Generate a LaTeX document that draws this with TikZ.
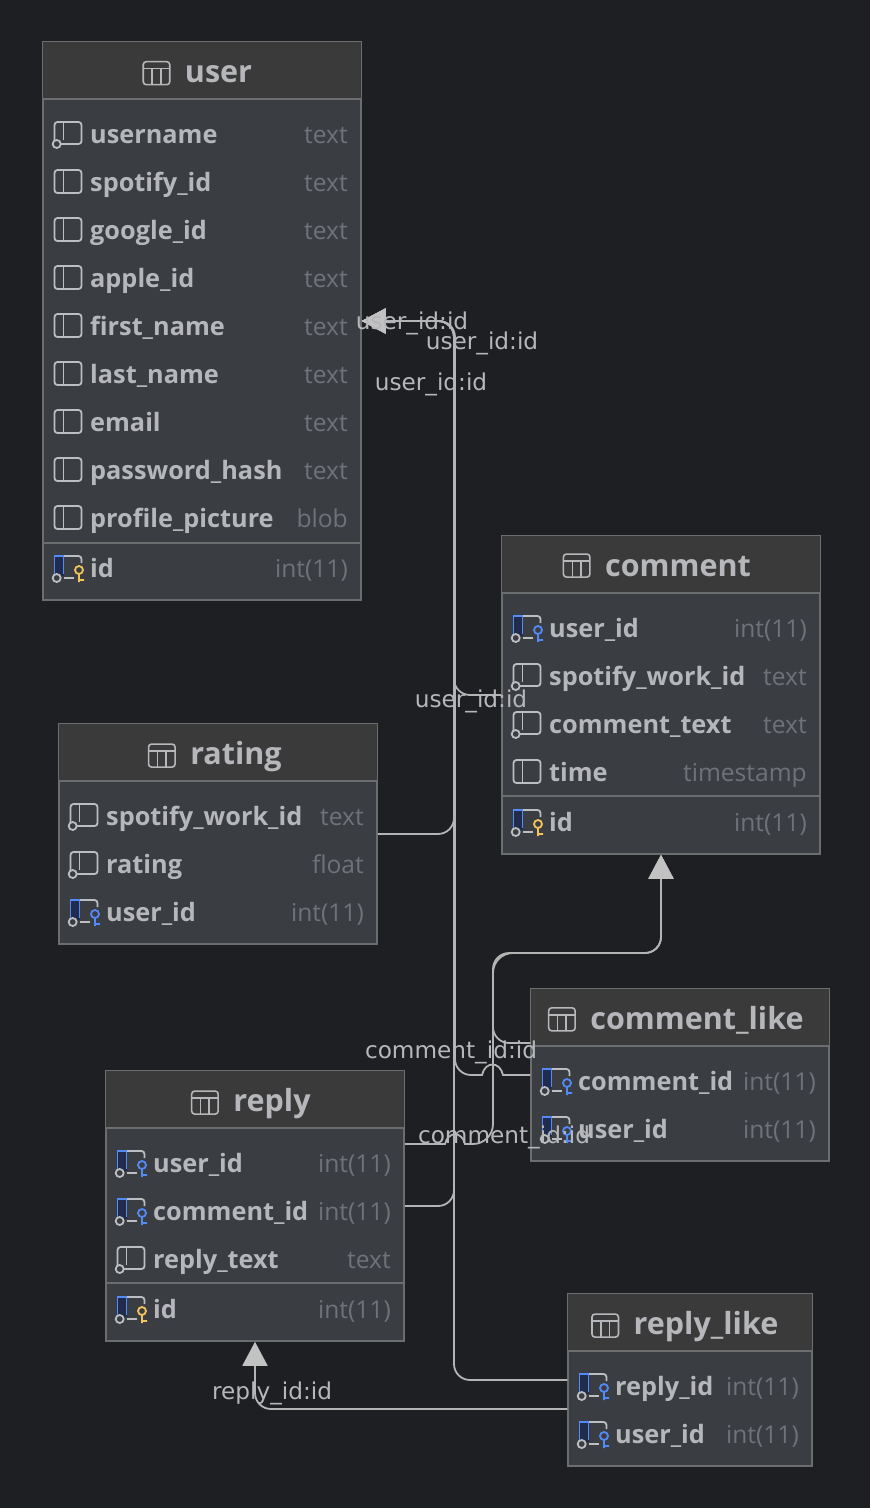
\documentclass[tikz,border=0pt]{standalone}
\usepackage{fontspec}
\setmainfont{Open Sans}
\newfontfamily\labelfont{DejaVu Sans}
\usetikzlibrary{arrows.meta,calc}

\definecolor{canvasbg}{HTML}{1E1F22}
\definecolor{bodybg}{HTML}{3A3D41}
\definecolor{headbg}{HTML}{3B3A3A}
\definecolor{rimgray}{HTML}{6C6D6F}
\definecolor{namegray}{HTML}{B6B7BB}
\definecolor{typegray}{HTML}{6F7278}
\definecolor{wiregray}{HTML}{B4B4B4}
\definecolor{tipgray}{HTML}{C2C2C2}
\definecolor{iconblue}{HTML}{548AF7}
\definecolor{iconyellow}{HTML}{F2C55C}
\definecolor{stripeblue}{HTML}{1F2C4D}

\tikzset{
	plainshape/.pic={
		\draw[iconline] (11.5,-12) rectangle (38.5,11);
		\draw[iconline,sharp corners] (20.5,-12) -- (20.5,11);
	},
	nnshape/.pic={
		\draw[iconline] (11.5,-12) rectangle (38.5,10);
		\draw[iconline,sharp corners] (20.5,-12) -- (20.5,6);
		\draw[iconline,fill=bodybg] (13.7,10) circle (4);
	},
	keybase/.pic={
		\fill[stripeblue] (11.5,-12) rectangle (20.5,8);
		\draw[iconline,rounded corners=3pt] (20.5,-12) -- (38.5,-12) -- (38.5,-5);
		\draw[iconline,sharp corners] (20.5,10) -- (31,10);
		\draw[iconline,iconblue,sharp corners] (11.5,8) -- (11.5,-12) -- (20.5,-12) -- (20.5,6);
		\draw[iconline,fill=bodybg] (13.7,10) circle (4);
	},
	fkshape/.pic={
		\pic {keybase};
		\draw[iconline,iconblue,sharp corners] (36,2) circle (4) (36,6) -- (36,14) (36,12) -- (41,12);
	},
	pkshape/.pic={
		\pic {keybase};
		\draw[iconline,iconyellow,sharp corners] (36,2) circle (4) (36,6) -- (36,14) (36,12) -- (41,12);
	},
	gridshape/.pic={
		\draw[gridline] (0,-11.5) rectangle (26.5,11.5);
		\draw[gridline,sharp corners] (0,-4.5) -- (26.5,-4.5) (9,-4.5) -- (9,11.5) (17.5,-4.5) -- (17.5,11.5);
	}
}

% rows of one table: name, x of left rim, x of the types, list
\newcommand{\tablerows}[4]{
	\foreach \y/\col/\kind/\icon [count=\i] in {#4} {
		\pic at (#2,\y) {\icon};
		\node[colname] (#1-\i) at (#2+47,\y+9) {\col};
		\node[coltype] (#1-\i-type) at (#3,\y+9) {\kind};
	}
}

\begin{document}
\begin{tikzpicture}[x=1pt,y=-1pt]
	\tikzstyle{tablebox}=[draw=rimgray,fill=bodybg,line width=1.5pt,inner sep=0pt]
	\tikzstyle{tabletitle}=[font=\fontsize{30.5}{30.5}\selectfont\bfseries,text=namegray,anchor=base,inner sep=0pt]
	\tikzstyle{colname}=[font=\fontsize{25.3}{25.3}\selectfont\bfseries,text=namegray,anchor=base west,inner sep=0pt]
	\tikzstyle{coltype}=[font=\fontsize{24.6}{24.6}\selectfont,text=typegray,anchor=base east,inner sep=0pt]
	\tikzstyle{iconline}=[draw=namegray!90!white,line width=1.8pt,rounded corners=3pt]
	\tikzstyle{gridline}=[draw=namegray,line width=1.6pt,rounded corners=3pt]
	\tikzstyle{wire}=[draw=wiregray,line width=1.8pt,rounded corners=16pt]
	\tikzstyle{wiretip}=[-{Triangle[length=24pt,width=25pt,color=tipgray]}]
	\tikzstyle{wirelabel}=[font=\labelfont\fontsize{23.2}{23.2}\selectfont,text=namegray,inner sep=0pt]

	\useasboundingbox[fill=canvasbg] (0,0) rectangle (870,1508);

	\foreach \name/\x/\y/\w/\h in {user/202/321/318/558, comment/661/695/318/318, rating/218/834/318/220, reply/255/1206/298/270, comment_like/680/1075/298/172, reply_like/690/1380/244/172} {
		\node[tablebox,minimum width=\w pt,minimum height=\h pt] (\name) at (\x,\y) {};
		\fill[headbg] ($(\name.north west)+(0.75,0.75)$) rectangle ($(\name.north east)+(-0.75,57.5)$);
		\draw[rimgray,line width=1.5pt] ($(\name.north west)+(0,57.5)$) -- ($(\name.north east)+(0,57.5)$);
	}
	\foreach \name/\title/\tx/\ty in {user/user/218.5/82, comment/comment/678/576, rating/rating/236/764, reply/reply/272/1111, comment_like/comment\_like/697/1029, reply_like/reply\_like/706/1334} {
		\node[tabletitle] (\name-title) at (\tx,\ty) {\title};
		\pic at ($(\name-title.west)+(-41.5,-0.5)$) {gridshape};
	}

	\tablerows{user}{43}{348}{134/username/text/nnshape, 182/spotify\_id/text/plainshape, 230/google\_id/text/plainshape, 278/apple\_id/text/plainshape, 326/first\_name/text/plainshape, 374/last\_name/text/plainshape, 422/email/text/plainshape, 470/password\_hash/text/plainshape, 518/profile\_picture/blob/plainshape, 568/id/int(11)/pkshape}
	\tablerows{comment}{502}{807}{628/user\_id/int(11)/fkshape, 676/spotify\_work\_id/text/nnshape, 724/comment\_text/text/nnshape, 772/time/timestamp/plainshape, 822/id/int(11)/pkshape}
	\tablerows{rating}{59}{364}{816/spotify\_work\_id/text/nnshape, 864/rating/float/nnshape, 912/user\_id/int(11)/fkshape}
	\tablerows{reply}{106}{391}{1163/user\_id/int(11)/fkshape, 1211/comment\_id/int(11)/fkshape, 1259/reply\_text/text/nnshape, 1309/id/int(11)/pkshape}
	\tablerows{comment_like}{531}{816}{1081/comment\_id/int(11)/fkshape, 1129/user\_id/int(11)/fkshape}
	\tablerows{reply_like}{568}{799}{1386/reply\_id/int(11)/fkshape, 1434/user\_id/int(11)/fkshape}

	\draw[rimgray,line width=1.5pt] ($(user.west)+(0,222)$) -- ($(user.east)+(0,222)$);
	\draw[rimgray,line width=1.5pt] ($(comment.west)+(0,101)$) -- ($(comment.east)+(0,101)$);
	\draw[rimgray,line width=1.5pt] ($(reply.west)+(0,77)$) -- ($(reply.east)+(0,77)$);

	% everything that points at user
	\foreach \from in {rating.east, comment.west, reply.east, reply_like.west}
		\path[wire,wiretip] (\from) -- (454,0 |- \from) -- (454,321) -- (user.east);
	\path[wire,wiretip] (comment_like.west) [sharp corners] -- (503,1075) .. controls (500,1061) and (485,1061) .. (482,1075) [rounded corners=16pt] -- (455,1075) -- (455,321) -- (user.east);

	\path[wire,wiretip] ([yshift=32pt]comment_like.west) -- (493,1043) -- (493,953) -- (661,953) -- (comment.south);
	\path[wire,wiretip] ([yshift=62pt]reply.east) [sharp corners] -- (445,1144) .. controls (448,1131) and (462,1131) .. (465,1144) [rounded corners=20pt] -- (493,1144) -- (493,953) [rounded corners=16pt] -- (661,953) -- (comment.south);
	\path[wire,wiretip] ([yshift=-29pt]reply_like.west) -- (255,1409) -- (reply.south);

	\foreach \l/\txt/\x/\y in {a/user\_id:id/412/323, b/user\_id:id/482/343, c/user\_id:id/431/384, d/user\_id:id/471/701, e/comment\_id:id/451/1052, f/comment\_id:id/504/1137, g/reply\_id:id/272/1393}
		\node[wirelabel] (\l) at (\x,\y) {\txt};
\end{tikzpicture}
\end{document}
